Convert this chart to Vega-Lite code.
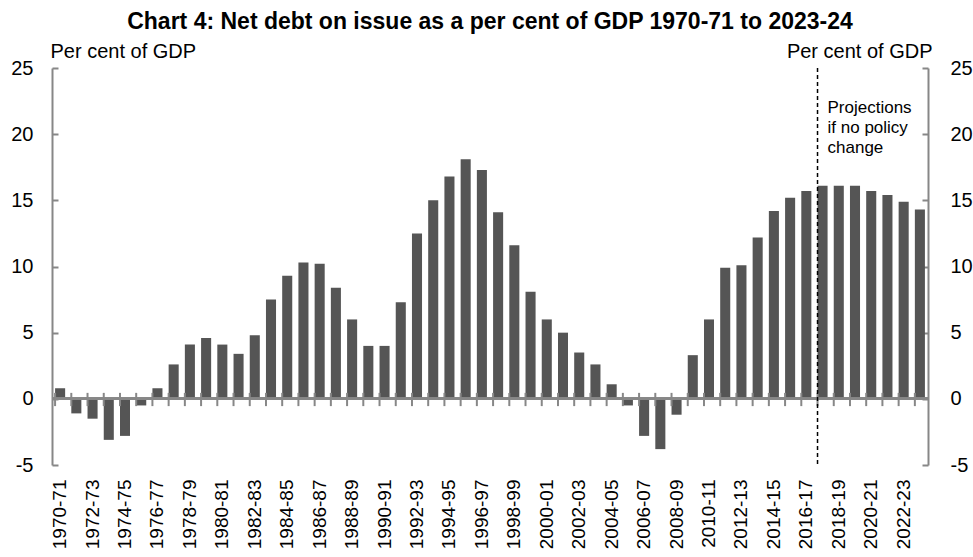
{
  "$schema": "https://vega.github.io/schema/vega-lite/v6.json",
  "width": 876,
  "height": 397,
  "autosize": {"type": "none"},
  "padding": {"left": 52, "top": 68, "right": 45, "bottom": 92},
  "background": "white",
  "config": {
    "view": {"stroke": null},
    "font": "Liberation Sans",
    "axis": {"grid": false}
  },
  "title": {
    "text": "Chart 4: Net debt on issue as a per cent of GDP 1970-71 to 2023-24",
    "font": "Liberation Sans",
    "fontSize": 23,
    "fontWeight": "bold",
    "color": "black",
    "anchor": "middle",
    "frame": "group",
    "baseline": "alphabetic",
    "offset": -11
  },
  "data": {
    "values": [
      {"year": "1970-71", "value": 0.8},
      {"year": "1971-72", "value": -1.1},
      {"year": "1972-73", "value": -1.5},
      {"year": "1973-74", "value": -3.1},
      {"year": "1974-75", "value": -2.8},
      {"year": "1975-76", "value": -0.5},
      {"year": "1976-77", "value": 0.8},
      {"year": "1977-78", "value": 2.6},
      {"year": "1978-79", "value": 4.1},
      {"year": "1979-80", "value": 4.6},
      {"year": "1980-81", "value": 4.1},
      {"year": "1981-82", "value": 3.4},
      {"year": "1982-83", "value": 4.8},
      {"year": "1983-84", "value": 7.5},
      {"year": "1984-85", "value": 9.3},
      {"year": "1985-86", "value": 10.3},
      {"year": "1986-87", "value": 10.2},
      {"year": "1987-88", "value": 8.4},
      {"year": "1988-89", "value": 6.0},
      {"year": "1989-90", "value": 4.0},
      {"year": "1990-91", "value": 4.0},
      {"year": "1991-92", "value": 7.3},
      {"year": "1992-93", "value": 12.5},
      {"year": "1993-94", "value": 15.0},
      {"year": "1994-95", "value": 16.8},
      {"year": "1995-96", "value": 18.1},
      {"year": "1996-97", "value": 17.3},
      {"year": "1997-98", "value": 14.1},
      {"year": "1998-99", "value": 11.6},
      {"year": "1999-00", "value": 8.1},
      {"year": "2000-01", "value": 6.0},
      {"year": "2001-02", "value": 5.0},
      {"year": "2002-03", "value": 3.5},
      {"year": "2003-04", "value": 2.6},
      {"year": "2004-05", "value": 1.1},
      {"year": "2005-06", "value": -0.5},
      {"year": "2006-07", "value": -2.8},
      {"year": "2007-08", "value": -3.8},
      {"year": "2008-09", "value": -1.2},
      {"year": "2009-10", "value": 3.3},
      {"year": "2010-11", "value": 6.0},
      {"year": "2011-12", "value": 9.9},
      {"year": "2012-13", "value": 10.1},
      {"year": "2013-14", "value": 12.2},
      {"year": "2014-15", "value": 14.2},
      {"year": "2015-16", "value": 15.2},
      {"year": "2016-17", "value": 15.7},
      {"year": "2017-18", "value": 16.1},
      {"year": "2018-19", "value": 16.1},
      {"year": "2019-20", "value": 16.1},
      {"year": "2020-21", "value": 15.7},
      {"year": "2021-22", "value": 15.4},
      {"year": "2022-23", "value": 14.9},
      {"year": "2023-24", "value": 14.3}
    ]
  },
  "layer": [
    {
      "layer": [
        {
          "mark": {"type": "bar", "color": "#555555"},
          "encoding": {
            "x": {
              "field": "year",
              "type": "nominal",
              "sort": null,
              "scale": {"paddingInner": 0.38, "paddingOuter": 0.19},
              "axis": {
                "orient": "bottom",
                "title": null,
                "domain": false,
                "ticks": false,
                "labelAngle": -90,
                "labelFontSize": 19,
                "labelColor": "black",
                "labelPadding": 14,
                "labelFont": "Liberation Sans",
                "values": ["1970-71","1972-73","1974-75","1976-77","1978-79","1980-81","1982-83","1984-85","1986-87","1988-89","1990-91","1992-93","1994-95","1996-97","1998-99","2000-01","2002-03","2004-05","2006-07","2008-09","2010-11","2012-13","2014-15","2016-17","2018-19","2020-21","2022-23"]
              }
            },
            "y": {
              "field": "value",
              "type": "quantitative",
              "scale": {"domain": [-5, 25], "nice": false, "zero": false},
              "axis": {
                "orient": "left",
                "values": [-5, 0, 5, 10, 15, 20, 25],
                "labelExpr": "replace(datum.label, '\u2212', '-')",
                "domainColor": "#878787",
                "domainWidth": 2,
                "tickColor": "#878787",
                "tickWidth": 2,
                "tickSize": -6,
                "labelPadding": 25,
                "labelFontSize": 20,
                "labelColor": "black",
                "title": "Per  cent of GDP",
                "titleAngle": 0,
                "titleAlign": "left",
                "titleBaseline": "alphabetic",
                "titleX": -2,
                "titleY": -11,
                "titleFontSize": 20,
                "titleFontWeight": "normal",
                "titleColor": "black"
              }
            }
          }
        },
        {
          "mark": {"type": "rule", "color": "#878787", "strokeWidth": 2},
          "encoding": {"y": {"datum": 0}}
        },
        {
          "mark": {"type": "rule", "color": "#878787", "strokeWidth": 2},
          "encoding": {
            "x": {"field": "year", "type": "nominal", "sort": null, "bandPosition": 0},
            "y": {"datum": 0.45},
            "y2": {"datum": -0.55}
          }
        },
        {
          "transform": [{"filter": "datum.year == '2017-18'"}],
          "mark": {"type": "rule", "color": "black", "strokeWidth": 1.5, "strokeDash": [4, 3]},
          "encoding": {
            "x": {"field": "year", "type": "nominal", "sort": null, "bandPosition": 0}
          }
        },
        {
          "transform": [{"filter": "datum.year == '2017-18'"}],
          "mark": {"type": "text", "text": ["Projections", "if  no policy", "change"], "align": "left", "baseline": "alphabetic", "dx": 10, "fontSize": 17, "lineHeight": 20, "color": "black"},
          "encoding": {
            "x": {"field": "year", "type": "nominal", "sort": null, "bandPosition": 0},
            "y": {"datum": 21.6}
          }
        }
      ]
    },
    {
      "mark": {"type": "tick", "opacity": 0},
      "encoding": {
        "y": {
          "field": "value",
          "type": "quantitative",
          "scale": {"domain": [-5, 25], "nice": false, "zero": false},
          "axis": {
            "orient": "right",
            "values": [-5, 0, 5, 10, 15, 20, 25],
            "labelExpr": "replace(datum.label, '\u2212', '-')",
            "domainColor": "#878787",
            "domainWidth": 2,
            "tickColor": "#878787",
            "tickWidth": 2,
            "tickSize": -6,
            "labelPadding": 28,
            "labelFontSize": 20,
            "labelColor": "black",
            "title": "Per  cent of GDP",
            "titleAngle": 0,
            "titleAlign": "right",
            "titleBaseline": "alphabetic",
            "titleX": 4,
            "titleY": -11,
            "titleFontSize": 20,
            "titleFontWeight": "normal",
            "titleColor": "black"
          }
        }
      }
    }
  ],
  "resolve": {"scale": {"y": "independent"}}
}
